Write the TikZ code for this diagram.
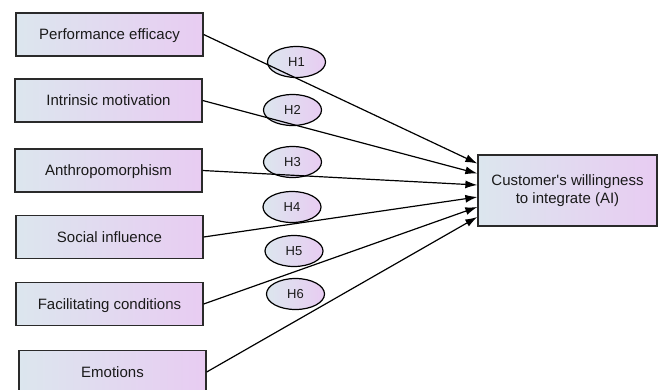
\documentclass[tikz,border=0pt]{standalone}
\usepackage{fontspec}
\setmainfont{Liberation Sans}
\usetikzlibrary{arrows.meta,shapes.geometric}

\definecolor{boxleft}{HTML}{DCE6EE}
\definecolor{boxright}{HTML}{E8CCF2}
\definecolor{edgegray}{HTML}{2A2A2A}
\definecolor{txtgray}{HTML}{1A1A1A}

\begin{document}
\begin{tikzpicture}[x=1pt, y=-1pt,
            basebox/.style={rectangle, draw=edgegray, line width=1.3pt,
            align=center, font=\fontsize{15}{18}\selectfont, text=txtgray,
            left color=boxleft, right color=boxright},
            construct/.style={basebox, minimum width=187pt, minimum height=43pt,
            text height=10.5pt, text depth=0pt},
            outcome/.style={basebox, minimum width=179pt, minimum height=71pt},
            hyp/.style={ellipse, draw=black, line width=1.2pt,
            minimum width=58pt, minimum height=31pt, inner sep=0pt,
            font=\fontsize{13}{15}\selectfont, text=txtgray,
            left color=boxleft, right color=boxright},
            path/.style={-{Latex[length=12pt,width=8pt]}, line width=1.2pt, black},
        ]
            \useasboundingbox (0,0) rectangle (660,389);
            \clip (0,0) rectangle (660,389);

            %% Konstrukte
            \node[construct] (pe) at (109.5,34.5)  {Performance efficacy};
            \node[construct] (im) at (108.5,100.5) {Intrinsic motivation};
            \node[construct] (an) at (108.5,170.5) {Anthropomorphism};
            \node[construct] (si) at (109.5,237)   {Social influence};
            \node[construct] (fc) at (109.5,304)   {Facilitating conditions};
            \node[construct] (em) at (112.5,372)   {Emotions};

            \node[outcome] (cw) at (567.5,190.5) {Customer\textquotesingle s willingness\\to integrate (AI)};

            %% Hypothesen
            \node[hyp] (h1) at (296.5,62)  {H1};
            \node[hyp] (h2) at (292.5,110) {H2};
            \node[hyp] (h3) at (292.5,162) {H3};
            \node[hyp] (h4) at (292,207)   {H4};
            \node[hyp] (h5) at (294,251)   {H5};
            \node[hyp] (h6) at (295.5,294) {H6};

            %% Pfade
            \draw[path] (pe.east) -- ([yshift=27pt]cw.west);
            \draw[path] (im.east) -- ([yshift=17pt]cw.west);
            \draw[path] (an.east) -- ([yshift=5.5pt]cw.west);
            \draw[path] (si.east) -- ([yshift=-6.5pt]cw.west);
            \draw[path] (fc.east) -- ([yshift=-16.5pt]cw.west);
            \draw[path] (em.east) -- ([yshift=-26.5pt]cw.west);

\end{tikzpicture}
\end{document}
